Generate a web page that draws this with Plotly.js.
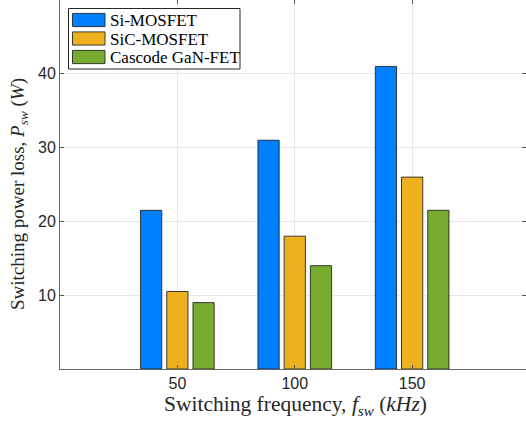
<!DOCTYPE html>
<html>
<head>
<meta charset="utf-8">
<script src="https://cdn.plot.ly/plotly-3.0.1.min.js"></script>
<style>html,body{margin:0;padding:0;background:#fff;}#chart{width:526px;height:426px;}</style>
</head>
<body>
<div id="chart"></div>
<script>
const frequencies = [50, 100, 150];
const seriesNames = ["Si-MOSFET", "SiC-MOSFET", "Cascode GaN-FET"];
const siMosfet = [21.5, 31, 41];
const sicMosfet = [10.5, 18, 26];
const ganFet = [9, 14, 21.5];
const seriesColors = ["#0080ff", "#edb120", "#77ac30"];
const xTickVals = [50, 100, 150];
const yTickVals = [10, 20, 30, 40];
const xTitle = 'Switching frequency, <i>f</i><sub><i>sw</i></sub> (<i>kHz</i>)';
const yTitle = 'Switching power loss, <i>P</i><sub><i>sw</i></sub> (<i>W</i>)';

const W = 526, H = 426;
const M = {l: 60, r: 0, t: 0, b: 57};
const PW = W - M.l - M.r, PH = H - M.t - M.b;
const px = v => (v - M.l) / PW;
const py = v => 1 - (v - M.t) / PH;

const values = [siMosfet, sicMosfet, ganFet];
const traces = values.map((vals, i) => ({
  type: 'bar',
  x: frequencies,
  y: vals,
  name: seriesNames[i],
  marker: {color: seriesColors[i], line: {color: 'rgba(30,30,30,0.85)', width: 1}},
  showlegend: false,
  hoverinfo: 'skip'
}));

const serif = '"Liberation Serif", "Times New Roman", serif';
const sans = '"Liberation Sans", Arial, sans-serif';

// manual legend (MATLAB style wide swatches)
const shapes = [{
  type: 'rect', xref: 'paper', yref: 'paper',
  x0: px(68.5), x1: px(240), y0: py(69), y1: py(8.5),
  line: {color: '#262626', width: 1}, fillcolor: '#ffffff', layer: 'above'
}];
const annotations = [];
const rowCenters = [20, 38.5, 57];
seriesNames.forEach((n, i) => {
  const c = rowCenters[i];
  shapes.push({
    type: 'rect', xref: 'paper', yref: 'paper',
    x0: px(72.5), x1: px(105), y0: py(c + 6.6), y1: py(c - 6.6),
    line: {color: 'rgba(30,30,30,0.85)', width: 1}, fillcolor: seriesColors[i], layer: 'above'
  });
  annotations.push({
    xref: 'paper', yref: 'paper', x: px(107.5), y: py(c + 0.5), xanchor: 'left', yanchor: 'middle',
    text: n, showarrow: false, font: {family: serif, size: 17, color: '#000'}
  });
});

annotations.push({
  xref: 'paper', yref: 'paper', x: px(295), y: py(405), xanchor: 'center', yanchor: 'middle',
  text: xTitle, showarrow: false, font: {family: serif, size: 21.5, color: '#262626'}
});
annotations.push({
  xref: 'paper', yref: 'paper', x: px(19), y: py(194), xanchor: 'center', yanchor: 'middle',
  textangle: -90, text: yTitle, showarrow: false, font: {family: serif, size: 19, color: '#262626'}
});

const layout = {
  width: W, height: H,
  margin: M,
  paper_bgcolor: '#fff', plot_bgcolor: '#fff',
  barmode: 'group', bargap: 0.33, bargroupgap: 0.19,
  xaxis: {
    range: [0, 198.5], tickvals: xTickVals, ticktext: xTickVals.map(String),
    ticks: 'inside', ticklen: 4, tickcolor: '#555', mirror: 'ticks',
    showline: true, linecolor: '#666', linewidth: 1,
    showgrid: true, gridcolor: '#e8e8e8', zeroline: false,
    tickfont: {family: sans, size: 16, color: '#262626'}
  },
  yaxis: {
    range: [0, 50], tickvals: yTickVals, ticktext: yTickVals.map(String),
    ticks: 'inside', ticklen: 4, tickcolor: '#555', mirror: 'ticks',
    showline: true, linecolor: '#666', linewidth: 1,
    showgrid: true, gridcolor: '#e8e8e8', zeroline: false,
    tickfont: {family: sans, size: 16, color: '#262626'}
  },
  shapes: shapes,
  annotations: annotations,
  showlegend: false
};

Plotly.newPlot('chart', traces, layout, {staticPlot: true, displayModeBar: false});
</script>
</body>
</html>
